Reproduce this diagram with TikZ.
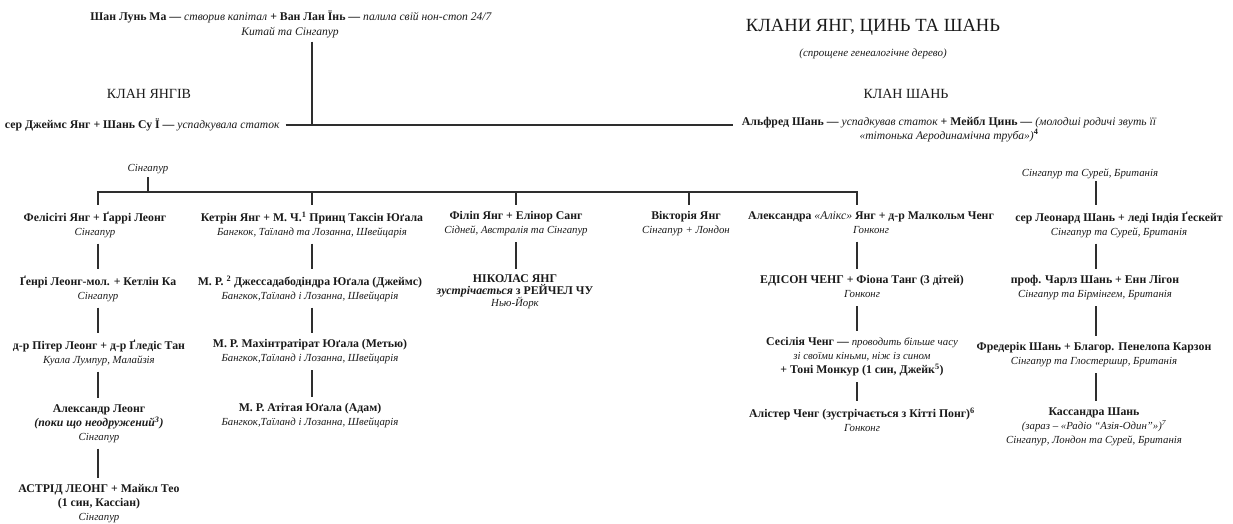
\documentclass[tikz,border=0pt]{standalone}
\usepackage{fontspec}
\setmainfont{Liberation Serif}
\definecolor{ink}{HTML}{1A1A1A}
\definecolor{lnk}{HTML}{2E2E2E}
\newcommand{\nmf}{\fontsize{11.8}{14}\selectfont\bfseries}
\newcommand{\loc}[1]{{\fontsize{10.8}{14}\selectfont\mdseries\itshape #1}}
\newcommand{\desc}[1]{{\fontsize{11.6}{14}\selectfont\mdseries\itshape #1}}
\begin{document}
\begin{tikzpicture}[x=1pt,y=-1pt,
  every node/.style={inner sep=0pt, outer sep=0pt, text=ink},
  blk/.style={align=center, anchor=north, font=\nmf,
    execute at begin node=\strut, execute at end node=\strut},
  line/.style={draw=lnk, line width=1.2pt},
  conn/.style={line, shorten <=4pt, shorten >=6.5pt}]
\useasboundingbox (0,0) rectangle (1233,523);

% columns
\coordinate (colA) at (98,0);
\coordinate (colB) at (312,0);
\coordinate (colP) at (516,0);
\coordinate (colV) at (689,0);
\coordinate (colC) at (857,0);
\coordinate (colS) at (1096,0);
\coordinate (jn) at (312,125);
\coordinate (bus) at (0,192);

% headings
\node[anchor=base, font=\fontsize{18.6}{21}\selectfont] (title) at (873,31) {КЛАНИ ЯНГ, ЦИНЬ ТА ШАНЬ};
\node[anchor=base, font=\fontsize{11}{12}\selectfont\itshape] (subtitle) at (873,56) {(спрощене генеалогічне дерево)};
\node[anchor=base, font=\fontsize{14}{16}\selectfont] (clanY) at (149,98) {КЛАН ЯНГІВ};
\node[anchor=base, font=\fontsize{14}{16}\selectfont] (clanS) at (906,98) {КЛАН ШАНЬ};

% founders
\node[anchor=base, font=\nmf] (top0) at (291,20.5) {Шан Лунь Ма — \desc{створив капітал} + Ван Лан Їнь — \desc{палила свій нон-стоп 24/7}};
\node[blk] (toploc) at (290,25.7) {{\fontsize{11.6}{14}\selectfont\mdseries\itshape Китай та Сінгапур}};
\node[anchor=base west, font=\nmf] (james) at (5,128.5) {сер Джеймс Янг + Шань Су Ї — \desc{успадкувала статок}};
\node[blk] (alfred) at (949,116.7) {Альфред Шань — \desc{успадкував статок} + Мейбл Цинь — \desc{(молодші родичі звуть її}\\\desc{«тітонька Аеродинамічна труба»)}\textsuperscript{4}};
\node[blk] (yloc) at (148,161.7) {\loc{Сінгапур}};
\node[blk] (sloc) at (1090,166.7) {\loc{Сінгапур та Сурей, Британія}};

% row 1
\node[blk] (fel) at (95,211.7) {Фелісіті Янг + Ґаррі Леонг\\\loc{Сінгапур}};
\node[blk] (cat) at (312,211.7) {Кетрін Янг + М. Ч.\textsuperscript{1} Принц Таксін Юґала\\\loc{Бангкок, Таїланд та Лозанна, Швейцарія}};
\node[blk] (phil) at (516,211.7) {Філіп Янг + Елінор Санг\\\loc{Сідней, Австралія та Сінгапур}};
\node[blk] (vic) at (686,211.7) {Вікторія Янг\\\loc{Сінгапур + Лондон}};
\node[blk] (alex) at (871,211.7) {Александра {\mdseries\itshape «Алікс»} Янг + д-р Малкольм Ченг\\\loc{Гонконг}};
\node[blk] (leo) at (1119,211.7) {сер Леонард Шань + леді Індія Ґескейт\\\loc{Сінгапур та Сурей, Британія}};

% row 2
\node[blk] (henry) at (98,275.7) {Ґенрі Леонг-мол. + Кетлін Ка\\\loc{Сінгапур}};
\node[blk] (jj) at (310,275.7) {М. Р. \textsuperscript{2} Джессадабодіндра Юґала (Джеймс)\\\loc{Бангкок,Таїланд і Лозанна, Швейцарія}};
\node[blk, font=\fontsize{11.8}{12}\selectfont\bfseries] (nick) at (515,275.1) {НІКОЛАС ЯНГ\\\textit{зустрічається} з РЕЙЧЕЛ ЧУ\\{\fontsize{10.8}{12}\selectfont\mdseries\itshape Нью-Йорк}};
\node[blk] (edison) at (862,275.7) {ЕДІСОН ЧЕНГ + Фіона Танг (3 дітей)\\\loc{Гонконг}};
\node[blk] (charles) at (1095,275.7) {проф. Чарлз Шань + Енн Лігон\\\loc{Сінгапур та Бірмінгем, Британія}};

% row 3
\node[blk] (peter) at (99,339.7) {д-р Пітер Леонг + д-р Ґледіс Тан\\\loc{Куала Лумпур, Малайзія}};
\node[blk] (matt) at (310,339.7) {М. Р. Махінтратірат Юґала (Метью)\\\loc{Бангкок,Таїланд і Лозанна, Швейцарія}};
\node[blk] (cec) at (862,337.7) {Сесілія Ченг — \loc{проводить більше часу}\\\loc{зі своїми кіньми, ніж із сином}\\+ Тоні Монкур (1 син, Джейк\textsuperscript{5})};
\node[blk] (fred) at (1094,342.7) {Фредерік Шань + Благор. Пенелопа Карзон\\\loc{Сінгапур та Глостершир, Британія}};

% row 4
\node[blk] (alexL) at (99,404.7) {Александр Леонг\\\textit{(поки що неодружений\textsuperscript{3})}\\\loc{Сінгапур}};
\node[blk] (adam) at (310,403.7) {М. Р. Атітая Юґала (Адам)\\\loc{Бангкок,Таїланд і Лозанна, Швейцарія}};
\node[blk] (alist) at (862,407.7) {Алістер Ченг (зустрічається з Кітті Понг)\textsuperscript{6}\\\loc{Гонконг}};
\node[blk] (cass) at (1094,407.7) {Кассандра Шань\\\loc{(зараз – «Радіо “Азія-Один”»)\textsuperscript{7}}\\\loc{Сінгапур, Лондон та Сурей, Британія}};

% row 5
\node[blk] (astrid) at (99,484.7) {АСТРІД ЛЕОНГ + Майкл Тео\\(1 син, Кассіан)\\\loc{Сінгапур}};

% founders' connectors
\draw[line, shorten <=2pt] (jn |- toploc.south) -- (jn);
\draw[line, shorten <=6pt, shorten >=9pt] (jn -| james.east) -- (jn -| alfred.west);

% Yang bus
\draw[line, shorten <=1.3pt] (yloc.south) -- (yloc.south |- bus);
\draw[line, shorten <=7pt, shorten >=7pt] (colA |- fel.north) -- (colA |- bus) -- (colC |- bus) -- (colC |- alex.north);
\draw[line, shorten >=7pt] (colB |- bus) -- (colB |- cat.north);
\draw[line, shorten >=7pt] (colP |- bus) -- (colP |- phil.north);
\draw[line, shorten >=7pt] (colV |- bus) -- (colV |- vic.north);

% Shang
\draw[line, shorten <=0.5pt, shorten >=6.5pt] (colS |- sloc.south) -- (colS |- leo.north);

% descendants
\draw[conn] (colA |- fel.south) -- (colA |- henry.north);
\draw[conn] (colA |- henry.south) -- (colA |- peter.north);
\draw[conn] (colA |- peter.south) -- (colA |- alexL.north);
\draw[conn] (colA |- alexL.south) -- (colA |- astrid.north);

\draw[conn] (colB |- cat.south) -- (colB |- jj.north);
\draw[conn] (colB |- jj.south) -- (colB |- matt.north);
\draw[conn] (colB |- matt.south) -- (colB |- adam.north);

\draw[conn] (colP |- phil.south) -- (colP |- nick.north);

\draw[conn] (colC |- alex.south) -- (colC |- edison.north);
\draw[conn] (colC |- edison.south) -- (colC |- cec.north);
\draw[conn] (colC |- cec.south) -- (colC |- alist.north);

\draw[conn] (colS |- leo.south) -- (colS |- charles.north);
\draw[conn] (colS |- charles.south) -- (colS |- fred.north);
\draw[conn] (colS |- fred.south) -- (colS |- cass.north);
\end{tikzpicture}
\end{document}
